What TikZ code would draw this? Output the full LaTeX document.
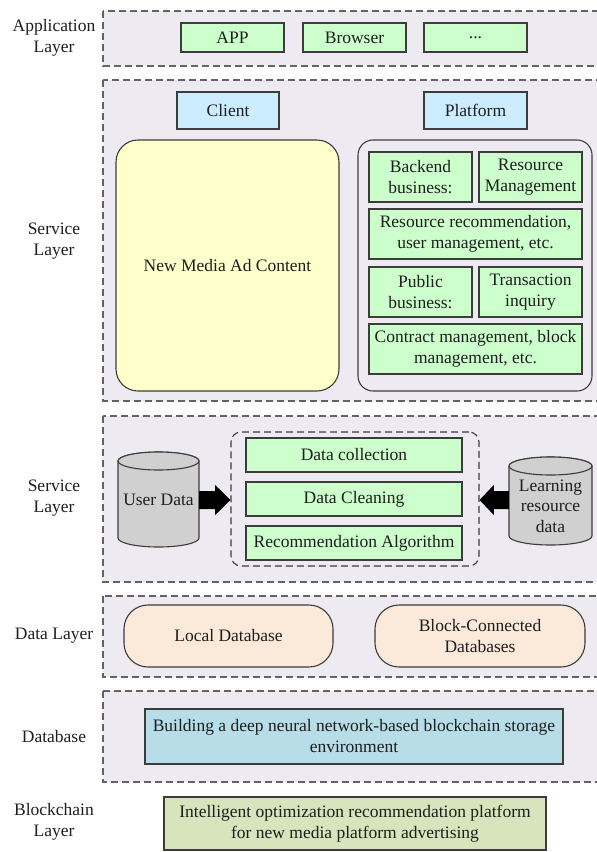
\documentclass[tikz,border=0pt]{standalone}
\usepackage{fontspec}
\setmainfont{Liberation Serif}
\usetikzlibrary{calc}
\definecolor{layerfill}{RGB}{237,235,241}
\definecolor{gfill}{RGB}{204,255,204}
\definecolor{bfill}{RGB}{204,236,255}
\definecolor{yfill}{RGB}{255,255,204}
\definecolor{pfill}{RGB}{251,233,218}
\definecolor{dbfill}{RGB}{183,222,232}
\definecolor{chfill}{RGB}{216,228,188}
\definecolor{cylfill}{RGB}{208,208,208}
\definecolor{edge}{RGB}{60,60,60}
\definecolor{txt}{RGB}{30,30,30}
\begin{document}
\begin{tikzpicture}[x=1pt,y=-1pt,
  every node/.style={font=\fontsize{17.5}{21}\selectfont, text=txt, align=center},
  layerbox/.style={draw=edge!80, fill=layerfill, dash pattern=on 7pt off 4pt, line width=1.1pt},
  lbl/.style={inner sep=0pt},
  gbox/.style={draw=edge, fill=gfill, line width=1.1pt, inner sep=0.5pt},
  bbox/.style={draw=edge, fill=bfill, line width=1.1pt, inner sep=1pt},
  rbox/.style={draw=edge, line width=1.1pt, rounded corners=22pt, inner sep=1pt},
  cyl/.style={draw=edge, fill=cylfill, line width=1.1pt},
  blk/.style={fill=black}
]
\useasboundingbox (0,0) rectangle (597,852);

% layer boxes
\draw[layerbox] (103,11) rectangle (604,66);
\draw[layerbox] (103,80) rectangle (604,401);
\draw[layerbox] (103,416) rectangle (604,582);
\draw[layerbox] (103,596) rectangle (604,677);
\draw[layerbox] (103,691) rectangle (604,782);

% layer labels
\node[lbl] (l1) at (54,38) {Application\\Layer};
\node[lbl] (l2) at (54,241) {Service\\Layer};
\node[lbl] (l3) at (54,498) {Service\\Layer};
\node[lbl] (l4) at (54,636) {Data Layer};
\node[lbl] (l5) at (54,737) {Database};
\node[lbl] (l6) at (54,822) {Blockchain\\Layer};

% application layer
\node[gbox, minimum width=103pt, minimum height=29pt] (app) at (232.5,37.5) {APP};
\node[gbox, minimum width=103pt, minimum height=29pt] (browser) at (354.5,37.5) {Browser};
\node[gbox, minimum width=103pt, minimum height=29pt] (dots) at (475.5,37.5) {...};

% service layer
\node[bbox, minimum width=102pt, minimum height=37pt] (client) at (228,110.5) {Client};
\node[bbox, minimum width=103pt, minimum height=37pt] (platform) at (475.5,110.5) {Platform};
\node[rbox, fill=yfill, minimum width=223pt, minimum height=251pt] (content) at (227.5,265.5) {New Media Ad Content};
\node[rbox, fill=layerfill, rounded corners=15pt, minimum width=234pt, minimum height=251pt] (platbox) at (475,265.5) {};
\node[gbox, minimum width=103pt, minimum height=50pt] (backend) at (420.5,177) {Backend\\business:};
\node[gbox, minimum width=103pt, minimum height=50pt] (resmgmt) at (530.5,177) {Resource\\Management};
\node[gbox, minimum width=213pt, minimum height=50pt] (resrec) at (475.5,234) {Resource recommendation,\\user management, etc.};
\node[gbox, minimum width=103pt, minimum height=50pt] (public) at (420.5,292) {Public\\business:};
\node[gbox, minimum width=103pt, minimum height=50pt] (trans) at (530.5,292) {Transaction\\inquiry};
\node[gbox, minimum width=213pt, minimum height=50pt] (contract) at (475.5,349) {Contract management, block\\management, etc.};

% second service layer
\node[draw=edge, dash pattern=on 7pt off 4pt, line width=1.1pt, rounded corners=10pt, minimum width=248pt, minimum height=134pt] (inner) at (355,499) {};
\node[gbox, minimum width=216pt, minimum height=34pt] (collect) at (354,455) {Data collection};
\node[gbox, minimum width=216pt, minimum height=34pt] (clean) at (354,499) {Data Cleaning};
\node[gbox, minimum width=216pt, minimum height=34pt] (algo) at (354,543) {Recommendation Algorithm};

% cylinders
\draw[cyl] (118,461) -- (118,538) arc[start angle=180, end angle=0, x radius=40.5, y radius=9] -- (199,461) arc[start angle=0, end angle=-180, x radius=40.5, y radius=9] -- cycle;
\draw[cyl] (158.5,461) ellipse [x radius=40.5, y radius=9];
\node[inner sep=0pt, minimum width=81pt, minimum height=60pt] (ud) at (158.5,500) {User Data};

\draw[cyl] (509,466) -- (509,536) arc[start angle=180, end angle=0, x radius=41.5, y radius=9] -- (592,466) arc[start angle=0, end angle=-180, x radius=41.5, y radius=9] -- cycle;
\draw[cyl] (550.5,466) ellipse [x radius=41.5, y radius=9];
\node[inner sep=0pt, minimum width=83pt, minimum height=60pt, font=\fontsize{17.5}{20.5}\selectfont] (lr) at (550.5,506) {Learning\\resource\\data};

% block arrows
\fill[blk] ($(ud.east)+(0,-9)$) -- ($(ud.east)+(16,-9)$) -- ($(ud.east)+(16,-15)$) -- (inner.west |- ud.east) -- ($(ud.east)+(16,15)$) -- ($(ud.east)+(16,9)$) -- ($(ud.east)+(0,9)$) -- cycle;
\fill[blk] ($(lr.west |- ud.east)+(0,-9)$) -- ($(lr.west |- ud.east)+(-15,-9)$) -- ($(lr.west |- ud.east)+(-15,-15)$) -- (inner.east |- ud.east) -- ($(lr.west |- ud.east)+(-15,15)$) -- ($(lr.west |- ud.east)+(-15,9)$) -- ($(lr.west |- ud.east)+(0,9)$) -- cycle;

% data layer
\node[rbox, fill=pfill, rounded corners=24pt, minimum width=209pt, minimum height=62pt] (localdb) at (228.5,636) {Local Database};
\node[rbox, fill=pfill, rounded corners=24pt, minimum width=210pt, minimum height=62pt] (blockdb) at (480,636) {Block-Connected\\Databases};

% database layer
\node[draw=edge, fill=dbfill, line width=1.1pt, inner sep=0.5pt, minimum width=418pt, minimum height=55pt] (storage) at (354,736.5) {Building a deep neural network-based blockchain storage\\environment};

% blockchain layer
\node[draw=edge, fill=chfill, line width=1.1pt, inner sep=1pt, minimum width=382pt, minimum height=53pt] (chain) at (355,823.5) {Intelligent optimization recommendation platform\\for new media platform advertising};
\end{tikzpicture}
\end{document}
